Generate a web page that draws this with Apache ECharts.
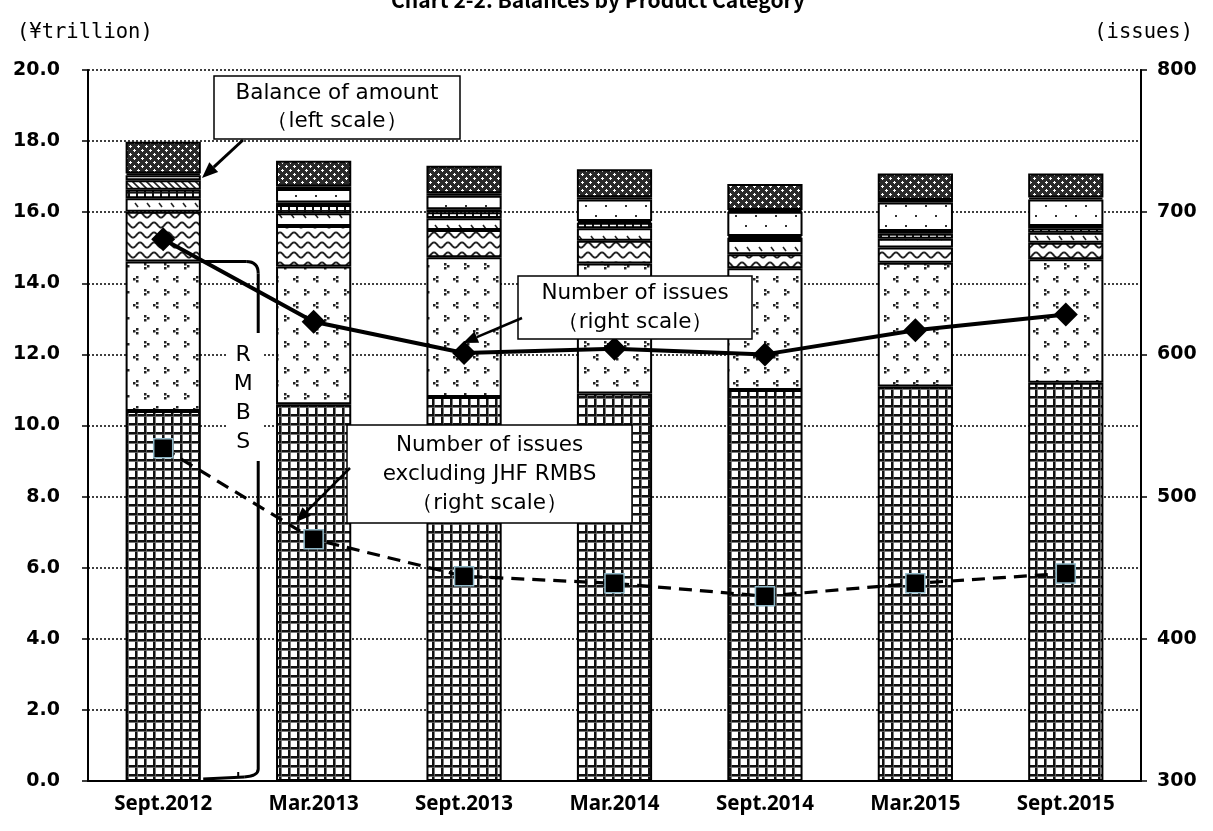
<!DOCTYPE html>
<html><head><meta charset="utf-8">
<script src="https://cdn.jsdelivr.net/npm/echarts@6/dist/echarts.min.js"></script>
<style>html,body{margin:0;padding:0;background:#fff}#c{width:1213px;height:831px}</style>
</head><body><div id="c"></div>
<script>
// ---- data (¥ trillion, stacked bottom -> top) ----
const categories = ['Sept.2012','Mar.2013','Sept.2013','Mar.2014','Sept.2014','Mar.2015','Sept.2015'];
const segJhfRmbs   = [10.41,10.60,10.80,10.90,11.00,11.10,11.20];
const segOtherRmbs = [4.20,3.87,3.93,3.66,3.42,3.48,3.48];
const segWave      = [1.40,1.14,0.77,0.64,0.40,0.43,0.46];
const segMarks     = [0.38,0.36,0.33,0.35,0.40,0.24,0.28];
const segBrick     = [0.24,0.23,0.17,0.15,0.06,0.16,0.13];
const segHatch     = [0.27,0.07,0.08,0.05,0.05,0.06,0.06];
const segDots      = [0.14,0.38,0.38,0.61,0.68,0.80,0.75];
const segBlack     = [0.05,0.07,0.07,0.06,0.05,0.07,0.05];
const segNet       = [0.89,0.73,0.78,0.79,0.73,0.75,0.68];
// ---- issues (right scale) ----
const issuesTotal = [681,623,601,604,600,617,628];
const issuesExJhf = [534,470,444,439,430,439,446];

function tile(w,h,draw){const c=document.createElement('canvas');c.width=w;c.height=h;const g=c.getContext('2d');g.fillStyle='#fff';g.fillRect(0,0,w,h);draw(g);return {image:c,repeat:'repeat'};}
const pGrid = tile(9,9,g=>{g.fillStyle='#111';g.fillRect(0,0,9,2.2);g.fillRect(0,0,2.2,9);g.fillStyle='#666';g.fillRect(0,2.2,9,0.8);g.fillRect(2.2,0,0.8,9);});
const pTri = tile(20,26,g=>{g.fillStyle='#222';
  [[4,3],[7,5],[4,7]].forEach(p=>g.fillRect(p[0],p[1],2.5,2.5));
  [[16,16],[13,18],[16,20]].forEach(p=>g.fillRect(p[0],p[1],2.5,2.5));});
const pWave = tile(14,10,g=>{g.strokeStyle='#222';g.lineWidth=2;g.beginPath();for(let x=0;x<=14;x+=0.5){const y=5-2.6*Math.cos(x/14*2*Math.PI);if(x===0)g.moveTo(x,y);else g.lineTo(x,y);}g.stroke();});
const pMarks = tile(12,11,g=>{g.strokeStyle='#222';g.lineWidth=1.6;g.beginPath();g.moveTo(3,5);g.lineTo(6,9);g.stroke();});
const pBrick = tile(8,6,g=>{g.fillStyle='#111';g.fillRect(0,0,8,1.6);g.fillRect(0,0,2,6);});
const pHatch = tile(7,7,g=>{g.strokeStyle='#222';g.lineWidth=1.6;g.beginPath();g.moveTo(-1,-1);g.lineTo(8,8);g.moveTo(-1,6);g.lineTo(1,8);g.moveTo(6,-1);g.lineTo(8,1);g.stroke();});
const pDots = tile(20,20,g=>{g.fillStyle='#333';g.fillRect(5,5,2,2);g.fillRect(15,15,2,2);});
const pNet = tile(8,8,g=>{g.fillStyle='#2a2a2a';g.fillRect(0,0,8,8);g.fillStyle='#fff';
  g.fillRect(1,2,3,1);g.fillRect(2,1,1,3);g.fillRect(5,6,3,1);g.fillRect(6,5,1,3);});

const segs = [
  ['JHF RMBS',segJhfRmbs,pGrid],['Other RMBS',segOtherRmbs,pTri],['Wave',segWave,pWave],
  ['Marks',segMarks,pMarks],['Brick',segBrick,pBrick],['Hatch',segHatch,pHatch],
  ['Dots',segDots,pDots],['Black',segBlack,'#000'],['Net',segNet,pNet]
];

const chart = echarts.init(document.getElementById('c'),null,{renderer:'canvas'});
const catFont = {fontFamily:'Noto Sans',fontWeight:'bold',fontSize:20.5,color:'#000'};
const valFont = {fontFamily:'DejaVu Sans',fontWeight:'bold',fontSize:19,color:'#000'};
const series = segs.map(s=>({
  name:s[0],type:'bar',stack:'bal',data:s[1],barWidth:'50%',
  itemStyle:{color:s[2],borderColor:'#000',borderWidth:2},
  emphasis:{disabled:true},silent:true
}));
series.push({name:'Number of issues',type:'line',yAxisIndex:1,data:issuesTotal,z:5,
  lineStyle:{color:'#000',width:4},symbol:'diamond',symbolSize:[24,24],
  itemStyle:{color:'#000'},emphasis:{disabled:true}});
series.push({name:'Number of issues excluding JHF RMBS',type:'line',yAxisIndex:1,data:issuesExJhf,z:5,
  lineStyle:{color:'#000',width:3.2,type:[13,8]},symbol:'rect',symbolSize:[19,19],
  itemStyle:{color:'#000',borderColor:'#8fb8c8',borderWidth:1.5},emphasis:{disabled:true}});

chart.setOption({
  animation:false,
  backgroundColor:'#fff',
  title:{text:'Chart 2-2. Balances by Product Category',left:386,top:-15,
    textStyle:{fontFamily:'Noto Sans CJK JP',fontWeight:'bold',fontSize:21,color:'#000'}},
  grid:{left:88,right:72,top:70,bottom:50,containLabel:false},
  xAxis:{type:'category',data:categories,
    axisLine:{lineStyle:{color:'#000',width:2}},axisTick:{show:false},
    axisLabel:Object.assign({margin:13},catFont)},
  yAxis:[
    {type:'value',min:0,max:20,interval:2,position:'left',
     axisLine:{show:true,lineStyle:{color:'#000',width:2}},
     axisTick:{show:true,length:6,lineStyle:{color:'#000',width:1.5}},
     axisLabel:Object.assign({margin:28,formatter:v=>v.toFixed(1)},valFont),
     splitLine:{show:true,lineStyle:{color:'#000',width:1.5,type:[2,2]}}},
    {type:'value',min:300,max:800,interval:100,position:'right',
     axisLine:{show:true,lineStyle:{color:'#000',width:2}},
     axisTick:{show:true,length:6,lineStyle:{color:'#000',width:1.5}},
     axisLabel:Object.assign({margin:16},valFont),
     splitLine:{show:false}}
  ],
  series:series
});

// ---- annotations ----
function arrow(x1,y1,x2,y2,w,hl,hw){
  const dx=x2-x1,dy=y2-y1,L=Math.hypot(dx,dy),ux=dx/L,uy=dy/L,px=-uy,py=ux;
  const bx=x2-ux*hl,by=y2-uy*hl;
  return [
    {type:'line',z:101,shape:{x1:x1,y1:y1,x2:bx,y2:by},style:{stroke:'#000',lineWidth:w}},
    {type:'polygon',z:101,shape:{points:[[x2,y2],[bx+px*hw/2,by+py*hw/2],[bx-px*hw/2,by-py*hw/2]]},style:{fill:'#000'}}
  ];
}
function box(x,y,w,h,lines,lh){
  const out=[{type:'rect',z:100,shape:{x:x,y:y,width:w,height:h},style:{fill:'#fff',stroke:'#000',lineWidth:1.5}}];
  const y0=y+h/2-(lines.length-1)*lh/2;
  lines.forEach((t,i)=>out.push({type:'text',z:102,style:{text:t,x:x+w/2,y:y0+i*lh,align:'center',verticalAlign:'middle',
    font:'21.5px "DejaVu Sans"',fill:'#000'}}));
  return out;
}
const top1 = segJhfRmbs[0]+segOtherRmbs[0];
const pTop = chart.convertToPixel({xAxisIndex:0,yAxisIndex:0},[0,top1]);
const pBot = chart.convertToPixel({xAxisIndex:0,yAxisIndex:0},[0,0]);
const barR = pTop[0]+38, bx = pTop[0]+95, ty = pTop[1], by = pBot[1];
const bs = {stroke:'#000',lineWidth:3,fill:null};

let g=[];
g.push({type:'text',z:100,style:{text:'(¥trillion)',x:17,y:33,verticalAlign:'middle',font:'20.5px "DejaVu Sans Mono"',fill:'#000'}});
g.push({type:'text',z:100,style:{text:'(issues)',x:1193,y:33,align:'right',verticalAlign:'middle',font:'20.5px "DejaVu Sans Mono"',fill:'#000'}});
g.push({type:'line',z:99,shape:{x1:barR,y1:ty,x2:bx-12,y2:ty},style:bs});
g.push({type:'bezierCurve',z:99,shape:{x1:bx-12,y1:ty,cpx1:bx,cpy1:ty,x2:bx,y2:ty+12},style:bs});
g.push({type:'line',z:99,shape:{x1:bx,y1:ty+12,x2:bx,y2:by-12},style:bs});
g.push({type:'bezierCurve',z:99,shape:{x1:bx,y1:by-12,cpx1:bx,cpy1:by-5,x2:bx-14,y2:by-4},style:bs});
g.push({type:'line',z:99,shape:{x1:bx-14,y1:by-4,x2:barR+2,y2:by-2},style:bs});
g.push({type:'line',z:99,shape:{x1:bx-20,y1:by-9,x2:bx-20,y2:by-3},style:{stroke:'#000',lineWidth:2}});
g.push({type:'rect',z:100,shape:{x:bx-32,y:333,width:36,height:128},style:{fill:'#fff'}});
['R','M','B','S'].forEach((t,i)=>g.push({type:'text',z:101,style:{text:t,x:bx-15,y:355+i*29,align:'center',verticalAlign:'middle',font:'22px "DejaVu Sans"',fill:'#000'}}));
g=g.concat(box(214,76,246,63,['Balance of amount','（left scale）'],28));
g=g.concat(arrow(243,140,202,178,3,16,13));
g=g.concat(box(518,276,234,63,['Number of issues','（right scale）'],29));
g=g.concat(arrow(522,318,463,343,2.5,15,12));
g=g.concat(box(347,425,285,98,['Number of issues','excluding JHF RMBS','（right scale）'],29));
g=g.concat(arrow(350,468,296,522,2.5,15,12));
chart.setOption({graphic:{elements:g}});
</script></body></html>
